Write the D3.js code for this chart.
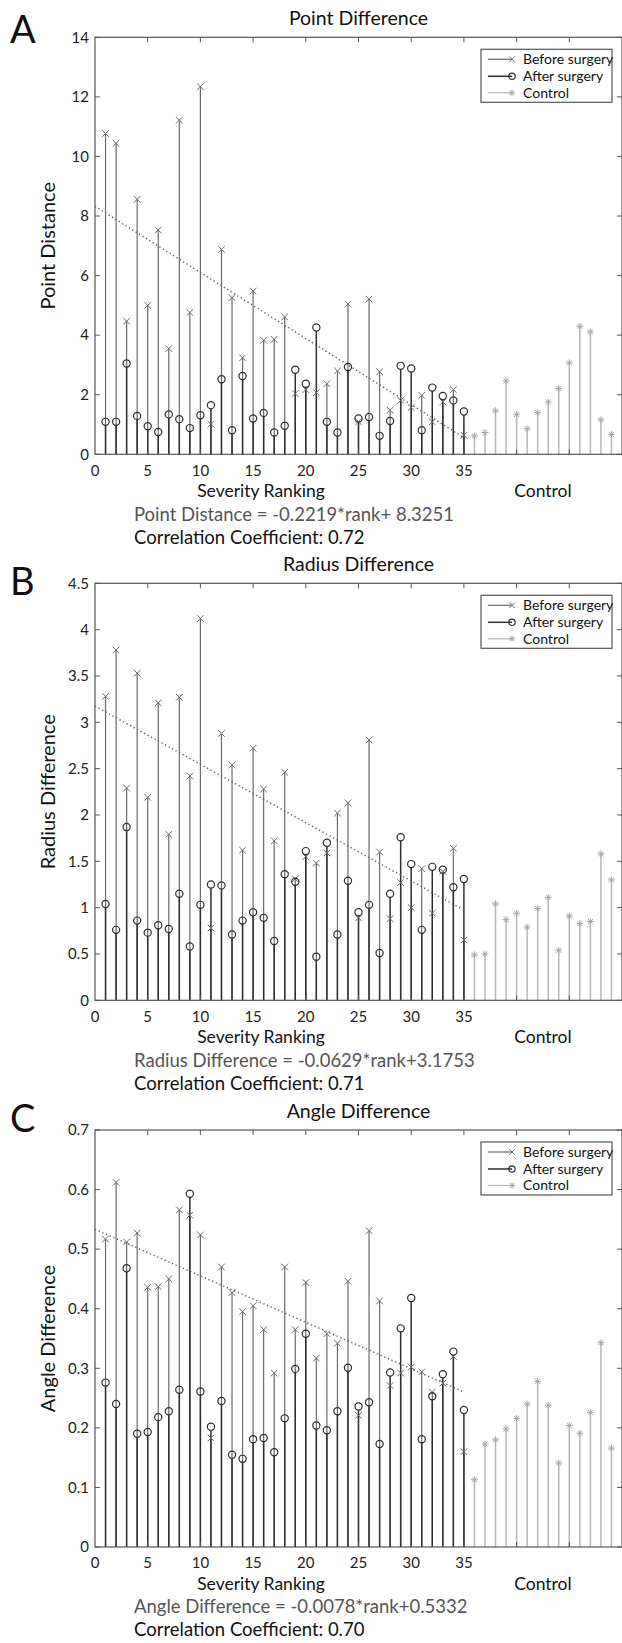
<!DOCTYPE html>
<html>
<head>
<meta charset="utf-8">
<script src="https://cdn.jsdelivr.net/npm/d3@7"></script>
<style>
  html, body { margin: 0; padding: 0; background: #fff; }
  svg { display: block; font-family: Lato, "Open Sans", sans-serif; }
</style>
</head>
<body>
<svg id="chart" width="622" height="1643"></svg>
<script>
// ---------- data ----------
const ranks = [1,2,3,4,5,6,7,8,9,10,11,12,13,14,15,16,17,18,19,20,21,22,23,24,25,26,27,28,29,30,31,32,33,34,35];
const controlPos = [36,37,38,39,40,41,42,43,44,45,46,47,48,49];

const pointBefore = [10.77,10.44,4.47,8.56,5.00,7.53,3.55,11.22,4.76,12.34,1.01,6.88,5.26,3.24,5.48,3.83,3.86,4.61,2.04,2.17,2.07,2.37,2.80,5.04,1.09,5.21,2.77,1.48,1.81,1.57,1.98,1.09,1.76,2.17,0.64];
const pointAfter  = [1.09,1.09,3.05,1.29,0.94,0.75,1.34,1.18,0.88,1.31,1.65,2.52,0.81,2.63,1.20,1.39,0.73,0.96,2.84,2.37,4.26,1.09,0.73,2.93,1.20,1.25,0.62,1.12,2.97,2.88,0.81,2.24,1.96,1.81,1.44];
const pointControl = [0.62,0.73,1.46,2.46,1.34,0.86,1.40,1.76,2.21,3.07,4.30,4.11,1.16,0.67];

const radiusBefore = [3.28,3.78,2.29,3.53,2.19,3.21,1.79,3.27,2.42,4.12,0.78,2.88,2.54,1.62,2.72,2.28,1.72,2.46,1.31,1.55,1.48,1.59,2.02,2.13,0.89,2.81,1.60,0.88,1.27,1.00,1.42,0.94,1.39,1.64,0.65];
const radiusAfter  = [1.04,0.76,1.87,0.86,0.73,0.81,0.77,1.15,0.58,1.03,1.25,1.24,0.71,0.86,0.95,0.89,0.64,1.36,1.28,1.61,0.47,1.70,0.71,1.29,0.95,1.03,0.51,1.15,1.76,1.47,0.76,1.44,1.41,1.22,1.31];
const radiusControl = [0.49,0.50,1.04,0.87,0.94,0.79,0.99,1.11,0.54,0.91,0.83,0.85,1.58,1.30];

const angleBefore = [0.517,0.612,0.512,0.527,0.436,0.437,0.450,0.566,0.557,0.524,0.183,0.470,0.427,0.395,0.405,0.365,0.292,0.470,0.365,0.444,0.317,0.358,0.342,0.446,0.221,0.531,0.413,0.271,0.292,0.302,0.294,0.260,0.275,0.320,0.160];
const angleAfter  = [0.276,0.240,0.468,0.190,0.193,0.218,0.228,0.264,0.593,0.261,0.202,0.245,0.155,0.148,0.181,0.183,0.159,0.216,0.299,0.358,0.204,0.196,0.228,0.301,0.236,0.243,0.173,0.293,0.367,0.418,0.181,0.253,0.290,0.328,0.230];
const angleControl = [0.113,0.173,0.180,0.198,0.216,0.240,0.278,0.238,0.141,0.204,0.191,0.226,0.343,0.166];

const xTickLabels = [0,5,10,15,20,25,30,35];
const xInnerTicks = [5,10,15,20,25,30,35,40,45];
const xDomain = [0,50];

const pointTicks  = [0,2,4,6,8,10,12,14];
const radiusTicks = [0,0.5,1,1.5,2,2.5,3,3.5,4,4.5];
const angleTicks  = [0,0.1,0.2,0.3,0.4,0.5,0.6,0.7];

const panelLetters = ["A","B","C"];
const panelTitles = ["Point Difference","Radius Difference","Angle Difference"];
const yLabels = ["Point Distance","Radius Difference","Angle Difference"];
const equations = ["Point Distance = -0.2219*rank+ 8.3251","Radius Difference = -0.0629*rank+3.1753","Angle Difference = -0.0078*rank+0.5332"];
const correlations = ["Correlation Coefficient: 0.72","Correlation Coefficient: 0.71","Correlation Coefficient: 0.70"];
const slopes = [-0.2219,-0.0629,-0.0078];
const intercepts = [8.3251,3.1753,0.5332];
const trendRange = [0,35];
const legendLabels = ["Before surgery","After surgery","Control"];
const xLabelSeverity = "Severity Ranking";
const xLabelControl = "Control";
const severityCenter = 15.75;
const controlCenter = 42.5;

// ---------- layout/style ----------
const panelTops = [37.3, 583.3, 1130];
const plotH = 417;
const left = 95, right = 622;
const colBefore = "#6a6a6a", colAfter = "#2e2e2e", colControl = "#b8b8b8", colAxis = "#555";

const svg = d3.select("#chart");

const panels = [
  {before: pointBefore, after: pointAfter, control: pointControl, ticks: pointTicks, fmt: d3.format("d")},
  {before: radiusBefore, after: radiusAfter, control: radiusControl, ticks: radiusTicks, fmt: d => String(d)},
  {before: angleBefore, after: angleAfter, control: angleControl, ticks: angleTicks, fmt: d => String(d)}
];

function drawX(g, x, y, s, color) {
  g.append("path").attr("d", `M${x-s},${y-s}L${x+s},${y+s}M${x-s},${y+s}L${x+s},${y-s}`)
    .attr("stroke", color).attr("stroke-width", 1).attr("fill", "none");
}
function drawStar(g, x, y, s, color) {
  const d = s*0.72;
  g.append("path").attr("d", `M${x-s},${y}L${x+s},${y}M${x},${y-s}L${x},${y+s}M${x-d},${y-d}L${x+d},${y+d}M${x-d},${y+d}L${x+d},${y-d}`)
    .attr("stroke", color).attr("stroke-width", 1).attr("fill", "none");
}
function drawO(g, x, y, r, color) {
  g.append("circle").attr("cx", x).attr("cy", y).attr("r", r)
    .attr("fill", "none").attr("stroke", color).attr("stroke-width", 1.2);
}

panels.forEach((p, i) => {
  const top = panelTops[i], bottom = top + plotH;
  const x = d3.scaleLinear().domain(xDomain).range([left, right]);
  const y = d3.scaleLinear().domain([p.ticks[0], p.ticks[p.ticks.length-1]]).range([bottom, top]);
  const g = svg.append("g");

  // stems: before
  g.selectAll(".sb").data(ranks).enter().append("line")
    .attr("x1", d => x(d)).attr("x2", d => x(d))
    .attr("y1", y(0)).attr("y2", (d, k) => y(p.before[k]))
    .attr("stroke", colBefore).attr("stroke-width", 1.2);
  // stems: after
  g.selectAll(".sa").data(ranks).enter().append("line")
    .attr("x1", d => x(d)).attr("x2", d => x(d))
    .attr("y1", y(0)).attr("y2", (d, k) => y(p.after[k]) + 3.5)
    .attr("stroke", colAfter).attr("stroke-width", 1.5);
  // stems: control
  g.selectAll(".sc").data(controlPos).enter().append("line")
    .attr("x1", d => x(d)).attr("x2", d => x(d))
    .attr("y1", y(0)).attr("y2", (d, k) => y(p.control[k]))
    .attr("stroke", colControl).attr("stroke-width", 1.5);

  ranks.forEach((r, k) => drawX(g, x(r), y(p.before[k]), 3.3, colBefore));
  ranks.forEach((r, k) => drawO(g, x(r), y(p.after[k]), 3.6, colAfter));
  controlPos.forEach((r, k) => drawStar(g, x(r), y(p.control[k]), 3.5, "#a8a8a8"));

  // trend line
  g.append("line")
    .attr("x1", x(trendRange[0])).attr("x2", x(trendRange[1]))
    .attr("y1", y(intercepts[i] + slopes[i]*trendRange[0]))
    .attr("y2", y(intercepts[i] + slopes[i]*trendRange[1]))
    .attr("stroke", "#666").attr("stroke-width", 1.5).attr("stroke-dasharray", "1.3,2.7");

  // frame
  g.append("rect").attr("x", left).attr("y", top).attr("width", right-left).attr("height", plotH)
    .attr("fill", "none").attr("stroke", colAxis).attr("stroke-width", 1.2);

  // y ticks (left/right inward)
  p.ticks.forEach(t => {
    g.append("line").attr("x1", left).attr("x2", left+5).attr("y1", y(t)).attr("y2", y(t)).attr("stroke", colAxis);
    g.append("line").attr("x1", right-5).attr("x2", right).attr("y1", y(t)).attr("y2", y(t)).attr("stroke", colAxis);
    g.append("text").attr("x", left-6).attr("y", y(t)).attr("dy", "0.35em")
      .attr("text-anchor", "end").attr("font-size", 15).attr("fill", "#222").text(p.fmt(t));
  });
  // x ticks (top/bottom inward)
  xInnerTicks.forEach(t => {
    g.append("line").attr("x1", x(t)).attr("x2", x(t)).attr("y1", top).attr("y2", top+5).attr("stroke", colAxis);
    g.append("line").attr("x1", x(t)).attr("x2", x(t)).attr("y1", bottom-5).attr("y2", bottom).attr("stroke", colAxis);
  });
  xTickLabels.forEach(t => {
    g.append("text").attr("x", x(t)).attr("y", bottom+16).attr("dy", "0.35em")
      .attr("text-anchor", "middle").attr("font-size", 15).attr("fill", "#222").text(t);
  });

  // titles & labels
  g.append("text").attr("x", (left+right)/2).attr("y", top-19).attr("dy", "0.35em")
    .attr("text-anchor", "middle").attr("font-size", 19.5).attr("fill", "#111").text(panelTitles[i]);
  g.append("text").attr("x", 10).attr("y", top + (i === 0 ? 6 : (i === 1 ? 12 : 2)))
    .attr("font-size", 38).attr("fill", "#111").text(panelLetters[i]);
  g.append("text").attr("transform", `translate(48,${(top+bottom)/2}) rotate(-90)`).attr("dy", "0.35em")
    .attr("text-anchor", "middle").attr("font-size", 20).attr("fill", "#111").text(yLabels[i]);
  g.append("text").attr("x", x(severityCenter)).attr("y", bottom+37).attr("dy", "0.35em")
    .attr("text-anchor", "middle").attr("font-size", 17.5).attr("fill", "#111").text(xLabelSeverity);
  g.append("text").attr("x", x(controlCenter)).attr("y", bottom+37).attr("dy", "0.35em")
    .attr("text-anchor", "middle").attr("font-size", 17.5).attr("fill", "#111").text(xLabelControl);
  g.append("text").attr("x", 134).attr("y", bottom+60).attr("dy", "0.35em")
    .attr("font-size", 18.5).attr("fill", "#555").text(equations[i]);
  g.append("text").attr("x", 134).attr("y", bottom+83).attr("dy", "0.35em")
    .attr("font-size", 18.5).attr("fill", "#111").text(correlations[i]);

  // legend
  const lg = g.append("g").attr("transform", `translate(481,${top+12})`);
  lg.append("rect").attr("width", 131).attr("height", 53).attr("fill", "#fff")
    .attr("stroke", colAxis).attr("stroke-width", 1.2);
  const rows = [10, 27, 43.5];
  const cols = [colBefore, colAfter, colControl];
  rows.forEach((ry, k) => {
    lg.append("line").attr("x1", 7).attr("x2", 31).attr("y1", ry).attr("y2", ry)
      .attr("stroke", cols[k]).attr("stroke-width", k === 1 ? 1.5 : 1.2);
    if (k === 0) drawX(lg, 31, ry, 2.8, colBefore);
    if (k === 1) drawO(lg, 31, ry, 3.2, colAfter);
    if (k === 2) drawStar(lg, 31, ry, 3.2, "#a8a8a8");
    lg.append("text").attr("x", 42).attr("y", ry).attr("dy", "0.35em")
      .attr("font-size", 14).attr("fill", "#111").text(legendLabels[k]);
  });
});
</script>
</body>
</html>
